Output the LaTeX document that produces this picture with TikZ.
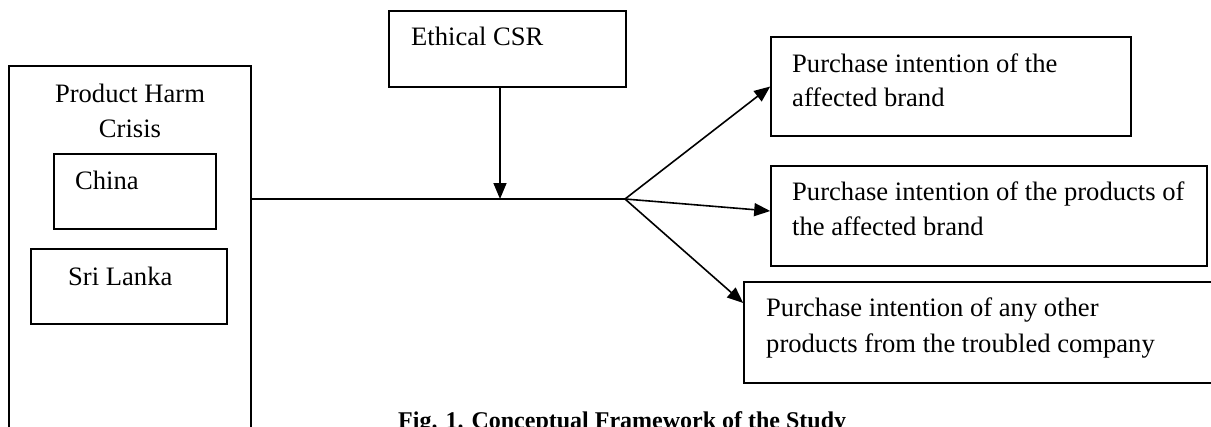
\documentclass[tikz,border=0pt]{standalone}
\usepackage{fontspec}
\setmainfont{Liberation Serif}
\usetikzlibrary{arrows.meta}
\begin{document}
\begin{tikzpicture}[x=1pt,y=1pt,
  box/.style={draw, line width=1.6pt, inner sep=0pt, minimum width=#1},
  txt/.style={anchor=base west, inner sep=0pt, font=\fontsize{26.6}{34}\selectfont},
  ctxt/.style={anchor=base, inner sep=0pt, font=\fontsize{26.6}{34}\selectfont},
  link/.style={line width=1.6pt},
  arr/.style={line width=1.6pt, -{Triangle[length=16pt,width=13pt]}}]
\useasboundingbox (0,0) rectangle (1211,-426);
\clip (0,0) rectangle (1211,-426);
% boxes
\node[box=242pt, minimum height=394pt] (outer) at (130,-263) {};
\node[box=162pt, minimum height=75pt] (china) at (135,-191.5) {};
\node[box=196pt, minimum height=75pt] (sri) at (129,-286.5) {};
\node[box=237pt, minimum height=76pt] (csr) at (507.5,-49) {};
\node[box=360pt, minimum height=99pt] (p1) at (951,-86.5) {};
\node[box=436pt, minimum height=100pt] (p2) at (989,-216) {};
\node[box=471pt, minimum height=101pt] (p3) at (979.5,-332.5) {};
% texts
\node[ctxt] (phc1) at (130,-102) {Product Harm};
\node[ctxt] (phc2) at (130,-137) {Crisis};
\node[txt] (tchina) at (75,-189) {China};
\node[txt] (tsri) at (68,-285) {Sri Lanka};
\node[txt] (tcsr) at (411,-45) {Ethical CSR};
\node[txt] (t1a) at (792,-72) {Purchase intention of the};
\node[txt] (t1b) at (792,-106) {affected brand};
\node[txt] (t2a) at (792,-200) {Purchase intention of the products of};
\node[txt] (t2b) at (792,-235) {the affected brand};
\node[txt] (t3a) at (766,-316) {Purchase intention of any other};
\node[txt] (t3b) at (766,-352) {products from the troubled company};
\node[anchor=base west, inner sep=0pt, font=\fontsize{24}{28}\selectfont\bfseries] (cap) at (398,-428) {Fig. 1. Conceptual Framework of the Study};
% connectors
\coordinate (f) at (625,-199);
\coordinate (m) at (500,-199);
\draw[link] (outer.east |- f) -- (f);
\draw[arr] (m |- csr.south) -- (m);
\draw[arr] (f) -- (p1.west);
\draw[arr] (f) -- ([yshift=5pt]p2.west);
\draw[arr] (f) -- ([yshift=29.5pt]p3.west);
\end{tikzpicture}
\end{document}
